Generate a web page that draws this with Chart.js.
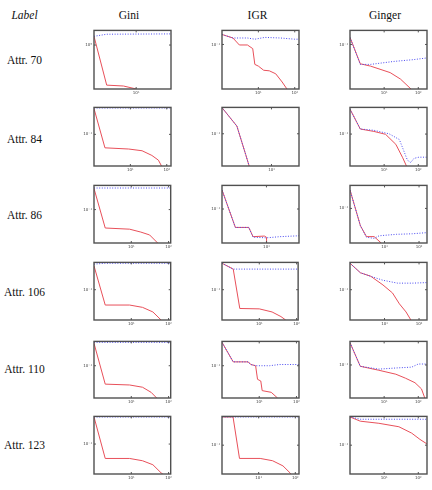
<!DOCTYPE html>
<html>
<head>
<meta charset="utf-8">
<script src="https://cdn.jsdelivr.net/npm/chart.js@4"></script>
<style>
  body { margin: 0; background: #fff; width: 432px; height: 490px; position: relative; overflow: hidden; font-family: "Liberation Serif", serif; }
  .lbl { position: absolute; font-size: 11.5px; line-height: 12px; color: #111; text-align: center; white-space: nowrap; width: 60px; }
  canvas { position: absolute; }
</style>
</head>
<body>
<script>
const methods = ["Gini", "IGR", "Ginger"];
const attrs = ["Attr. 70", "Attr. 84", "Attr. 86", "Attr. 106", "Attr. 110", "Attr. 123"];
const xTickValues = [10, 100];
const yTickValues = [1, 0.1];
// axis ranges, one row per attribute, one column per method
const xMax = [[67, 131, 180], [131, 36, 180], [114, 54, 170], [114, 110, 170], [114, 117, 180], [114, 126, 180]];
const yMax = [[1.778, 0.1738, 0.1738], [0.2884, 0.2818, 0.2851], [0.263, 0.257, 0.251],
              [0.298, 0.298, 0.298], [0.269, 0.269, 0.261], [0.302, 0.316, 0.316]];

// [number of features, value]
const gini70Red = [[1, 1.41], [2, 0.207], [5, 0.2], [10, 0.178], [12, 0.15]];
const gini70Blue = [[1, 1.41], [2, 1.53], [67, 1.55]];
const igr70Red = [[1, 0.148], [2, 0.129], [3, 0.098], [5, 0.098], [7, 0.085], [8, 0.0457], [10, 0.0427], [14, 0.0363], [20, 0.0355], [30, 0.0316], [45, 0.0229], [61, 0.0174], [70, 0.012]];
const igr70Blue = [[1, 0.148], [2, 0.129], [5, 0.129], [8, 0.123], [15, 0.132], [40, 0.129], [100, 0.123], [131, 0.123]];
const ginger70Red = [[1, 0.132], [2, 0.0468], [4, 0.0427], [15, 0.0331], [30, 0.0257], [61, 0.0174], [70, 0.014]];
const ginger70Blue = [[1, 0.132], [2, 0.0457], [4, 0.0457], [19, 0.0513], [70, 0.055], [180, 0.0589]];

const gini84Red = [[1, 0.275], [2, 0.0589], [9, 0.0562], [21, 0.0525], [39, 0.0437], [59, 0.0363], [72, 0.0288], [80, 0.02]];
const gini84Blue = [[1, 0.282], [131, 0.282]];
const igr84Red = [[1, 0.279], [2, 0.135], [3, 0.0447], [4, 0.02]];
const igr84Blue = [[1, 0.279], [2, 0.135], [3, 0.0447], [4, 0.02]];
const ginger84Red = [[1, 0.266], [2, 0.122], [5, 0.111], [11, 0.099], [22, 0.0668], [35, 0.0394], [45, 0.0285], [55, 0.02]];
const ginger84Blue = [[1, 0.266], [2, 0.122], [5, 0.116], [14, 0.101], [28, 0.0804], [48, 0.0359], [60, 0.0327], [75, 0.0385], [104, 0.0403], [180, 0.0403]];

const gini86Red = [[1, 0.232], [2, 0.0479], [9, 0.0457], [18, 0.0407], [31, 0.0363], [51, 0.0263], [60, 0.02]];
const gini86Blue = [[1, 0.237], [114, 0.237]];
const igr86Red = [[1, 0.214], [2, 0.0479], [4, 0.0479], [5, 0.0331], [9, 0.0339], [10, 0.0324], [11, 0.005]];
const igr86Blue = [[1, 0.214], [2, 0.0479], [4, 0.0479], [5, 0.0324], [10, 0.0316], [20, 0.0331], [54, 0.0343]];
const ginger86Red = [[1, 0.209], [2, 0.0501], [3, 0.0324], [5, 0.0324], [8, 0.0251], [10, 0.018]];
const ginger86Blue = [[1, 0.209], [2, 0.0501], [3, 0.0316], [5, 0.0302], [7, 0.0335], [22, 0.0355], [64, 0.0363], [170, 0.038]];

const gini106Red = [[1, 0.259], [2, 0.0542], [9, 0.0542], [20, 0.0494], [38, 0.0411], [63, 0.0298], [70, 0.022]];
const gini106Blue = [[1, 0.278], [2, 0.288], [114, 0.288]];
const igr106Red = [[1, 0.288], [2, 0.228], [3, 0.0472], [10, 0.0465], [22, 0.0411], [38, 0.0342], [51, 0.0298], [60, 0.022]];
const igr106Blue = [[1, 0.288], [2, 0.228], [110, 0.228]];
const ginger106Red = [[1, 0.288], [2, 0.197], [4, 0.171], [9, 0.121], [17, 0.0879], [27, 0.0568], [42, 0.0411], [58, 0.0298], [65, 0.022]];
const ginger106Blue = [[1, 0.288], [2, 0.197], [4, 0.171], [9, 0.146], [24, 0.13], [64, 0.13], [170, 0.133]];

const gini110Red = [[1, 0.249], [2, 0.0473], [9, 0.0457], [20, 0.0417], [34, 0.0339], [48, 0.0269], [55, 0.02]];
const gini110Blue = [[1, 0.259], [114, 0.259]];
const igr110Red = [[1, 0.259], [2, 0.117], [5, 0.117], [6, 0.105], [8, 0.1], [9, 0.0575], [11, 0.0537], [12, 0.0363], [21, 0.0339], [31, 0.0269], [36, 0.02]];
const igr110Blue = [[1, 0.259], [2, 0.117], [5, 0.117], [6, 0.105], [8, 0.1], [19, 0.1], [35, 0.105], [117, 0.105]];
const ginger110Red = [[1, 0.248], [2, 0.0948], [7, 0.0807], [22, 0.0687], [42, 0.0585], [80, 0.0486], [124, 0.0378], [155, 0.0261], [180, 0.018]];
const ginger110Blue = [[1, 0.248], [2, 0.0948], [7, 0.0845], [22, 0.0885], [64, 0.0916], [100, 0.104], [180, 0.104]];

const gini123Red = [[1, 0.295], [2, 0.0562], [9, 0.0562], [20, 0.0513], [38, 0.0437], [63, 0.0316], [70, 0.0302], [80, 0.022]];
const gini123Blue = [[1, 0.295], [114, 0.295]];
const igr123Red = [[1, 0.309], [2, 0.309], [3, 0.0589], [11, 0.0589], [24, 0.0537], [46, 0.0437], [73, 0.0327], [85, 0.025]];
const igr123Blue = [[1, 0.309], [126, 0.309]];
const ginger123Red = [[1, 0.309], [2, 0.261], [7, 0.24], [27, 0.209], [64, 0.162], [112, 0.126], [180, 0.105]];
const ginger123Blue = [[1, 0.309], [2, 0.282], [180, 0.282]];

const redSeries = [
  [gini70Red, igr70Red, ginger70Red], [gini84Red, igr84Red, ginger84Red], [gini86Red, igr86Red, ginger86Red],
  [gini106Red, igr106Red, ginger106Red], [gini110Red, igr110Red, ginger110Red], [gini123Red, igr123Red, ginger123Red]
];
const blueSeries = [
  [gini70Blue, igr70Blue, ginger70Blue], [gini84Blue, igr84Blue, ginger84Blue], [gini86Blue, igr86Blue, ginger86Blue],
  [gini106Blue, igr106Blue, ginger106Blue], [gini110Blue, igr110Blue, ginger110Blue], [gini123Blue, igr123Blue, ginger123Blue]
];

// page layout
const colLeft = [94, 222, 350];
const colHead = [129, 257.5, 385];
const rowTop = [28, 105, 183, 260, 339, 414];
const rowH = [61, 61, 60, 60, 59, 60];
const rowLabelY = [60, 139, 215, 292, 369, 445];

function addText(txt, cx, cy, italic) {
  const d = document.createElement("div");
  d.className = "lbl";
  d.textContent = txt;
  d.style.left = (cx - 30) + "px";
  d.style.top = (cy - 6) + "px";
  if (italic) d.style.fontStyle = "italic";
  document.body.appendChild(d);
}

addText("Label", 24.5, 14.5, true);
methods.forEach((m, j) => addText(m, colHead[j], 14.5, false));
attrs.forEach((a, i) => addText(a, 24.5, rowLabelY[i], false));

const sup = { "-": "\u207b", "0": "\u2070", "1": "\u00b9", "2": "\u00b2", "3": "\u00b3" };
function powLabel(v) {
  const e = String(Math.round(Math.log10(v)));
  return "10" + e.split("").map(c => sup[c]).join("");
}

const boxPlugin = {
  id: "box",
  afterDraw(chart) {
    const { ctx, chartArea: a, scales } = chart;
    ctx.save();
    ctx.strokeStyle = "#555";
    ctx.lineWidth = 1;
    scales.x.ticks.forEach(t => {
      const px = scales.x.getPixelForValue(t.value);
      ctx.beginPath();
      ctx.moveTo(px, a.top); ctx.lineTo(px, a.top + 2);
      ctx.moveTo(px, a.bottom); ctx.lineTo(px, a.bottom - 2);
      ctx.stroke();
    });
    scales.y.ticks.forEach(t => {
      const py = scales.y.getPixelForValue(t.value);
      ctx.beginPath();
      ctx.moveTo(a.left, py); ctx.lineTo(a.left + 2, py);
      ctx.moveTo(a.right, py); ctx.lineTo(a.right - 2, py);
      ctx.stroke();
    });
    ctx.lineWidth = 1.4;
    ctx.strokeStyle = "#505050";
    ctx.strokeRect(a.left, a.top, a.right - a.left, a.bottom - a.top);
    ctx.restore();
  }
};

const tickFont = { family: "DejaVu Sans", size: 4 };

attrs.forEach((a, i) => {
  methods.forEach((m, j) => {
    const cv = document.createElement("canvas");
    cv.width = 97;
    cv.height = rowH[i] + 10;
    cv.style.left = (colLeft[j] - 17) + "px";
    cv.style.top = (rowTop[i] - 2) + "px";
    document.body.appendChild(cv);
    const toPts = s => s.map(p => ({ x: p[0], y: p[1] }));
    new Chart(cv, {
      type: "line",
      data: {
        datasets: [
          {
            data: toPts(blueSeries[i][j]),
            borderColor: "#4a4af0",
            borderWidth: 1,
            borderDash: [1, 1.6],
            pointRadius: 0,
            tension: 0,
          },
          {
            data: toPts(redSeries[i][j]),
            borderColor: "#e8505a",
            borderWidth: 1,
            pointRadius: 0,
            tension: 0,
          },
        ],
      },
      options: {
        responsive: false,
        animation: false,
        devicePixelRatio: 1,
        layout: { padding: { top: 2, right: 3, left: 0, bottom: 0 } },
        plugins: { legend: { display: false }, tooltip: { enabled: false } },
        scales: {
          x: {
            type: "logarithmic",
            min: 1,
            max: xMax[i][j],
            grid: { display: false, drawTicks: false },
            border: { display: false },
            afterBuildTicks: s => { s.ticks = xTickValues.filter(v => v <= s.max).map(v => ({ value: v })); },
            afterFit: s => { s.height = 8; },
            ticks: { font: tickFont, color: "#444", padding: 2, maxRotation: 0, callback: v => powLabel(v) },
          },
          y: {
            type: "logarithmic",
            min: yMax[i][j] / 10,
            max: yMax[i][j],
            grid: { display: false, drawTicks: false },
            border: { display: false },
            afterBuildTicks: s => { s.ticks = yTickValues.filter(v => v >= s.min && v <= s.max).map(v => ({ value: v })); },
            afterFit: s => { s.width = 17; },
            ticks: { font: tickFont, color: "#444", padding: 2, callback: v => powLabel(v) },
          },
        },
      },
      plugins: [boxPlugin],
    });
  });
});
</script>
</body>
</html>
